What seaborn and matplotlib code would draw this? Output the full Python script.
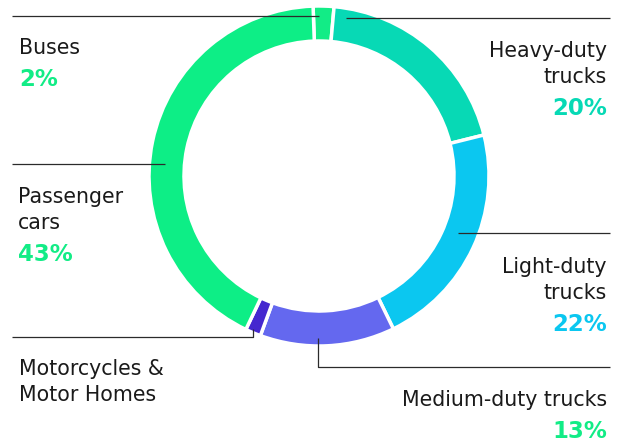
import seaborn as sns
import matplotlib.pyplot as plt

# share of emissions by vehicle type (clockwise from top)
categories = ["Buses", "Heavy-duty\ntrucks", "Light-duty\ntrucks",
              "Medium-duty trucks", "Motorcycles &\nMotor Homes", "Passenger\ncars"]
shares = [2, 20, 22, 13, 1.5, 43]
pct_labels = ["2%", "20%", "22%", "13%", "", "43%"]
colors = ["#12EC86", "#07D9B5", "#0BC7F0", "#6468EF", "#4528CF", "#0DEE86"]
pct_colors = ["#12EC86", "#07D9B5", "#0BC7F0", "#12EC86", "#12EC86", "#12EC86"]

sns.set_style("white")
plt.rcParams['font.family'] = ['DejaVu Sans']

W, H = 620, 442
fig = plt.figure(figsize=(6.2, 4.42), dpi=100)
ax = fig.add_axes([0, 0, 1, 1])


def Y(y):
    # pixel row (from top) to data y
    return H - y


ax.pie(shares, colors=colors, startangle=92, counterclock=False,
       center=(319, Y(176)), radius=170,
       wedgeprops=dict(width=35, edgecolor="white", linewidth=2.5))
ax.set_xlim(0, W)
ax.set_ylim(0, H)
ax.set_aspect("equal")
ax.axis("off")

line_kw = dict(color="#2b2b2b", lw=0.9, solid_capstyle="butt")
# leader lines
ax.plot([12, 319], [Y(16), Y(16)], **line_kw)
ax.plot([346, 610], [Y(18), Y(18)], **line_kw)
ax.plot([12, 165], [Y(164), Y(164)], **line_kw)
ax.plot([458, 610], [Y(233), Y(233)], **line_kw)
ax.plot([12, 253, 253], [Y(337), Y(337), Y(329)], **line_kw)
ax.plot([318, 318, 610], [Y(338), Y(367), Y(367)], **line_kw)

# label anchors: x, baseline of first line, alignment
anchors = [(19, 54, "left"), (607, 57, "right"), (607, 273, "right"),
           (607, 406, "right"), (19, 375, "left"), (18, 203, "left")]

txt_kw = dict(fontsize=14.8, color="#1a1a1a", va="baseline")
for cat, pct, pc, (x, yb, ha) in zip(categories, pct_labels, pct_colors, anchors):
    lines = cat.split("\n")
    for i, ln in enumerate(lines):
        ax.text(x, Y(yb + i * 26), ln, ha=ha, **txt_kw)
    if pct:
        ax.text(x, Y(yb + (len(lines) - 1) * 26 + 32), pct, ha=ha, va="baseline",
                fontsize=16.5, fontweight="bold", color=pc)

fig.savefig("out.png", dpi=100)
